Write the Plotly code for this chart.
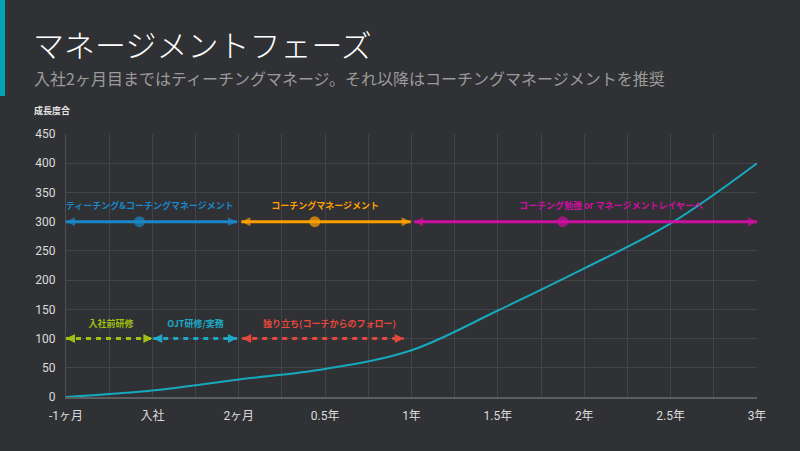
import plotly.graph_objects as go

# ---- data ----
x_labels = ["-1ヶ月", "入社", "2ヶ月", "0.5年", "1年", "1.5年", "2年", "2.5年", "3年"]
x_pos = [0, 1, 2, 3, 4, 5, 6, 7, 8]
growth = [0, 11, 30, 48, 80, 148, 220, 297, 400]

# solid phase arrows (level 300)
phase_names = ["ティーチング&コーチングマネージメント", "コーチングマネージメント", "コーチング勉強 or マネージメントレイヤーへ"]
phase_start = [0, 2.03, 4.03]
phase_mid = [0.85, 2.88, 5.75]
phase_end = [1.98, 3.99, 8.0]
phase_level = [300, 300, 300]
phase_label_x = [0.97, 3.0, 6.31]
phase_label_y = [325, 325, 325]
phase_colors = ["#1a87c8", "#ffa000", "#cc0fa0"]

# dashed training arrows (level 100)
train_names = ["入社前研修", "OJT研修/実務", "独り立ち(コーチからのフォロー)"]
train_start = [0, 1.01, 2.04]
train_end = [1.0, 1.98, 3.91]
train_level = [100, 100, 100]
train_label_x = [0.52, 1.5, 3.05]
train_label_y = [124, 124, 124]
train_colors = ["#9fbf12", "#1ea8c6", "#e4483c"]

title = "マネージメントフェーズ"
subtitle = "入社2ヶ月目まではティーチングマネージ。それ以降はコーチングマネージメントを推奨"
y_title = "成長度合"

FONT = "Noto Sans CJK JP"
TICKFONT = "Roboto, Noto Sans CJK JP"
BG = "#303134"

fig = go.Figure()

# growth curve
fig.add_trace(go.Scatter(
    x=x_pos, y=growth, mode="lines",
    line=dict(color="#16a9bd", width=2, shape="spline", smoothing=1.0),
    showlegend=False, hoverinfo="skip"))

# solid arrows
for i in range(len(phase_names)):
    fig.add_trace(go.Scatter(
        x=[phase_start[i], phase_mid[i], phase_end[i]],
        y=[phase_level[i]] * 3,
        mode="lines+markers",
        line=dict(color=phase_colors[i], width=3),
        marker=dict(symbol=["arrow-left", "circle", "arrow-right"],
                    size=[9, 11, 9], color=phase_colors[i],
                    line=dict(width=0)),
        showlegend=False, hoverinfo="skip"))
    fig.add_trace(go.Scatter(
        x=[phase_label_x[i]], y=[phase_label_y[i]], mode="text",
        text=[phase_names[i]],
        textfont=dict(family=FONT, size=9, color=phase_colors[i], weight="bold"),
        showlegend=False, hoverinfo="skip"))

# dashed arrows
for i in range(len(train_names)):
    fig.add_trace(go.Scatter(
        x=[train_start[i], train_end[i]],
        y=[train_level[i]] * 2,
        mode="lines+markers",
        line=dict(color=train_colors[i], width=3, dash="5px,5px"),
        marker=dict(symbol=["arrow-left", "arrow-right"], size=9,
                    color=train_colors[i], line=dict(width=0)),
        showlegend=False, hoverinfo="skip"))
    fig.add_trace(go.Scatter(
        x=[train_label_x[i]], y=[train_label_y[i]], mode="text",
        text=[train_names[i]],
        textfont=dict(family=FONT, size=9, color=train_colors[i], weight="bold"),
        showlegend=False, hoverinfo="skip"))

# ticks every half step for grid, labels on integers
tickvals = []
ticktext = []
for i, p in enumerate(x_pos):
    tickvals.append(p)
    ticktext.append(x_labels[i])
    if i < len(x_pos) - 1:
        tickvals.append(p + 0.5)
        ticktext.append("")

L, R, T, B = 66, 43, 134, 54
W, H = 800, 451
pw, ph = W - L - R, H - T - B

def px_x(px):
    return (px - L) / pw

def px_y(py):
    return (H - B - py) / ph

fig.update_layout(
    width=W, height=H,
    margin=dict(l=L, r=R, t=T, b=B),
    paper_bgcolor=BG, plot_bgcolor=BG,
    font=dict(family=FONT, color="#d6d6d6", size=12),
    xaxis=dict(range=[0, 8], tickvals=tickvals, ticktext=ticktext,
               showgrid=True, gridcolor="#434447", gridwidth=1,
               zeroline=False, showline=True, linecolor="#5c5d60", linewidth=2,
               ticks="", ticklabelstandoff=7,
               tickfont=dict(size=12, color="#dcdcdc", family=TICKFONT)),
    yaxis=dict(range=[0, 450], dtick=50,
               showgrid=True, gridcolor="#434447", gridwidth=1,
               zeroline=False, showline=True, linecolor="#4e4f52", linewidth=1,
               ticks="", ticklabelstandoff=7,
               tickfont=dict(size=12, color="#dcdcdc", family=TICKFONT)),
    annotations=[
        dict(text=title, xref="paper", yref="paper", x=px_x(31), y=px_y(44),
             xanchor="left", yanchor="middle", showarrow=False,
             font=dict(family=FONT, size=31, color="#ffffff", weight=300)),
        dict(text=subtitle, xref="paper", yref="paper", x=px_x(32), y=px_y(78),
             xanchor="left", yanchor="middle", showarrow=False,
             font=dict(family=FONT, size=16, color="#9b9b9b")),
        dict(text=y_title, xref="paper", yref="paper", x=px_x(32), y=px_y(110),
             xanchor="left", yanchor="middle", showarrow=False,
             font=dict(family=FONT, size=9, color="#e6e6e6", weight="bold")),
    ],
    shapes=[
        dict(type="rect", xref="paper", yref="paper",
             x0=px_x(0), x1=px_x(5), y0=px_y(96), y1=px_y(0),
             fillcolor="#00a4b6", line=dict(width=0), layer="above"),
    ],
)

fig.write_html("out.html",
               config={"displayModeBar": False},
               post_script="document.body.style.margin='0';document.body.style.background='" + BG + "';")
